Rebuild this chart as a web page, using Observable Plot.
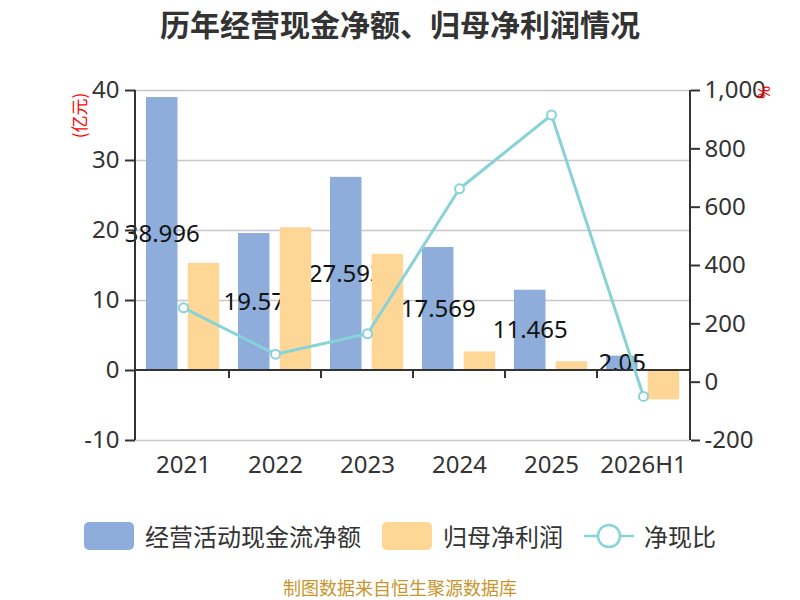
<!DOCTYPE html>
<html>
<head>
<meta charset="utf-8">
<script src="https://cdn.jsdelivr.net/npm/d3@7"></script>
<script src="https://cdn.jsdelivr.net/npm/@observablehq/plot@0.6"></script>
<style>
  html, body { margin: 0; padding: 0; background: #fff; }
  body { width: 800px; height: 600px; position: relative; overflow: hidden;
         font-family: "Noto Sans", "Noto Sans CJK SC", sans-serif; color: #333; }
  #title { position: absolute; left: 0; top: 0; width: 800px; height: 46px; line-height: 46px;
           text-align: center; font-size: 30px; font-weight: bold; color: #333;
           font-family: "Noto Sans CJK SC", "Noto Sans", sans-serif; }
  #chart { position: absolute; left: 0; top: 50px; }
  #legend { position: absolute; left: 0; top: 522px; width: 800px; height: 28px;
            display: flex; justify-content: center; align-items: center;
            font-size: 24px; color: #333; font-family: "Noto Sans CJK SC", sans-serif; }
  .sw { width: 50px; height: 28px; border-radius: 5px; margin-right: 11px; }
  .lt { margin-right: 21px; line-height: 28px; }
  #footer { position: absolute; left: 0; top: 577px; width: 800px; height: 20px; line-height: 20px; text-align: center;
            font-size: 18px; color: #c8952c; font-family: "Noto Sans CJK SC", sans-serif; }
</style>
</head>
<body>
<div id="title">历年经营现金净额、归母净利润情况</div>
<div id="chart"></div>
<div id="legend"></div>
<div id="footer">制图数据来自恒生聚源数据库</div>
<script>
const years = ["2021", "2022", "2023", "2024", "2025", "2026H1"];
const ocf = [38.996, 19.57, 27.593, 17.569, 11.465, 2.05];
const netProfit = [15.3, 20.4, 16.6, 2.65, 1.25, -4.2];
const ratio = [255, 96, 166, 663, 916, -49];
const leftTicks = [-10, 0, 10, 20, 30, 40];
const rightTicks = [-200, 0, 200, 400, 600, 800, 1000];
const seriesNames = ["经营活动现金流净额", "归母净利润", "净现比"];

const BLUE = "#8eaddb", YELLOW = "#fed797", TEAL = "#88d3d7", AX = "#333";
const rows = years.map((y, i) => ({year: y, ocf: ocf[i], np: netProfit[i], ratio: ratio[i]}));

// map right-axis (%) values onto the left-axis (亿元) units
const L0 = leftTicks[0], L1 = leftTicks[leftTicks.length - 1];
const R0 = rightTicks[0], R1 = rightTicks[rightTicks.length - 1];
const toLeft = r => L0 + (r - R0) * (L1 - L0) / (R1 - R0);
const fromLeft = v => R0 + (v - L0) * (R1 - R0) / (L1 - L0);
const hyphen = s => s.replace("\u2212", "-");

function axisLines(index, scales, values, dimensions) {
  const {width, height, marginLeft, marginRight, marginTop, marginBottom} = dimensions;
  const g = d3.create("svg:g").attr("stroke", AX).attr("stroke-width", 2).attr("fill", "none");
  const x0 = marginLeft, x1 = width - marginRight, yt = marginTop, yb = height - marginBottom;
  g.append("line").attr("x1", x0).attr("x2", x0).attr("y1", yt).attr("y2", yb);
  g.append("line").attr("x1", x1).attr("x2", x1).attr("y1", yt).attr("y2", yb);
  const y0 = scales.y(0);
  g.append("line").attr("x1", x0).attr("x2", x1).attr("y1", y0).attr("y2", y0);
  years.slice(1).forEach(yr => {
    const xb = scales.x(yr);
    g.append("line").attr("x1", xb).attr("x2", xb).attr("y1", y0).attr("y2", y0 + 8);
  });
  return g.node();
}

const chart = Plot.plot({
  width: 800,
  height: 450,
  marginTop: 40,
  marginBottom: 60,
  marginLeft: 135,
  marginRight: 110,
  x: {type: "band", domain: years, padding: 0, axis: null},
  y: {domain: [L0, L1], axis: null},
  style: {fontFamily: "'Noto Sans', 'Noto Sans CJK SC', sans-serif", fontSize: "24px", color: AX, background: "transparent", overflow: "visible"},
  marks: [
    Plot.ruleY(leftTicks.filter(v => v !== 0), {stroke: "#c8c8c8", strokeWidth: 1.5}),
    Plot.barY(rows, {x: "year", y: "ocf", fill: BLUE, insetLeft: 9, insetRight: 51.5}),
    Plot.text(rows, {x: "year", y: d => d.ocf / 2, text: d => String(d.ocf), dx: -21.25, fontSize: 24, fill: "#111"}),
    Plot.barY(rows, {x: "year", y: "np", fill: YELLOW, insetLeft: 50.7, insetRight: 9.8}),
    Plot.axisY({ticks: leftTicks, anchor: "left", tickSize: 10, tickPadding: 6, fontSize: 24, stroke: AX, strokeWidth: 2, fill: AX, label: null,
                tickFormat: v => String(v)}),
    Plot.axisY({ticks: rightTicks.map(toLeft), anchor: "right", tickSize: 9, tickPadding: 5, fontSize: 24, stroke: AX, strokeWidth: 2, fill: AX, label: null,
                tickFormat: v => hyphen(d3.format(",")(Math.round(fromLeft(v))))}),
    Plot.axisX({anchor: "bottom", tickSize: 0, tickPadding: 15, fontSize: 24, fill: AX, label: null}),
    axisLines,
    Plot.line(rows, {x: "year", y: d => toLeft(d.ratio), stroke: TEAL, strokeWidth: 3}),
    Plot.dot(rows, {x: "year", y: d => toLeft(d.ratio), r: 4.5, fill: "white", stroke: TEAL, strokeWidth: 2}),
    Plot.text(["(亿元)"], {frameAnchor: "top-left", textAnchor: "middle", dx: -62, dy: 25, rotate: -90, fill: "red", fontSize: 17, fontFamily: "'Noto Sans CJK SC', sans-serif"}),
    Plot.text(["%"], {frameAnchor: "top-right", textAnchor: "middle", dx: 79, dy: 2, rotate: 90, fill: "red", fontSize: 16})
  ]
});
document.getElementById("chart").appendChild(chart);

// legend
const legend = document.getElementById("legend");
function addSwatch(color, label) {
  const s = document.createElement("div"); s.className = "sw"; s.style.background = color; legend.appendChild(s);
  const t = document.createElement("span"); t.className = "lt"; t.textContent = label; legend.appendChild(t);
}
addSwatch(BLUE, seriesNames[0]);
addSwatch(YELLOW, seriesNames[1]);
const ls = d3.create("svg").attr("width", 50).attr("height", 28).style("margin-right", "10px");
ls.append("line").attr("x1", 0).attr("x2", 50).attr("y1", 14).attr("y2", 14).attr("stroke", TEAL).attr("stroke-width", 2.5);
ls.append("circle").attr("cx", 25).attr("cy", 14).attr("r", 11).attr("fill", "white").attr("stroke", TEAL).attr("stroke-width", 2.5);
legend.appendChild(ls.node());
const lt = document.createElement("span"); lt.textContent = seriesNames[2]; lt.style.lineHeight = "28px"; legend.appendChild(lt);
</script>
</body>
</html>
